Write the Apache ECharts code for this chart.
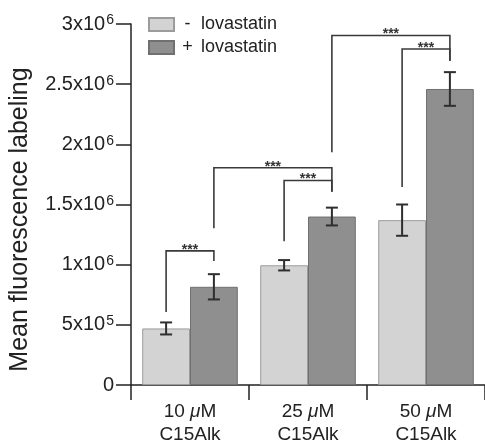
<!DOCTYPE html>
<html>
<head>
<meta charset="utf-8">
<style>
  html, body { margin: 0; padding: 0; background: #fff; }
  #main { width: 485px; height: 444px; }
</style>
<script src="https://cdn.jsdelivr.net/npm/echarts@6/dist/echarts.min.js"></script>
</head>
<body>
<div id="main"></div>
<script>
var doses = ['10', '25', '50'];
var seriesNames = ['- lovastatin', '+ lovastatin'];
var minusMean = [470000, 995000, 1370000];
var minusErr = [50000, 43000, 130000];
var plusMean = [816000, 1400000, 2460000];
var plusErr = [105000, 74000, 140000];

// significance brackets: [cat A, series A, cat B, series B, bar level, leg A end, leg B end]
var brackets = [
  [0, 0, 0, 1, 1115000, 607000, 1030000],
  [0, 1, 1, 1, 1805000, 1302000, 1605000],
  [1, 0, 1, 1, 1700000, 1195000, 1605000],
  [1, 1, 2, 1, 2904000, 1934000, 2695000],
  [2, 0, 2, 1, 2792000, 1646000, 2695000]
];

var FONT = 'Liberation Sans';
var GAP = 0.19; // barCategoryGap

var myChart = echarts.init(document.getElementById('main'));

function barCenter(api, cat, s) {
  var band = api.size([1, 0])[0];
  var bw = band * (1 - GAP) / 2;
  return api.coord([cat, 0])[0] + (s === 0 ? -bw / 2 : bw / 2);
}

function errData(means, errs) {
  return means.map(function (m, i) { return [i, m, errs[i]]; });
}

function renderErr(s) {
  return function (params, api) {
    var cat = api.value(0), m = api.value(1), e = api.value(2);
    var x = barCenter(api, cat, s);
    var yTop = api.coord([cat, m + e])[1];
    var yBot = api.coord([cat, m - e])[1];
    var style = { stroke: '#2e2e2e', lineWidth: 2 };
    return {
      type: 'group',
      children: [
        { type: 'line', shape: { x1: x, y1: yTop, x2: x, y2: yBot }, style: style },
        { type: 'line', shape: { x1: x - 6, y1: yTop, x2: x + 6, y2: yTop }, style: style },
        { type: 'line', shape: { x1: x - 6, y1: yBot, x2: x + 6, y2: yBot }, style: style }
      ]
    };
  };
}

function renderBracket(params, api) {
  var c1 = api.value(0), s1 = api.value(1), c2 = api.value(2), s2 = api.value(3);
  var lvl = api.coord([0, api.value(4)])[1];
  var e1 = api.coord([0, api.value(5)])[1];
  var e2 = api.coord([0, api.value(6)])[1];
  var x1 = barCenter(api, c1, s1);
  var x2 = barCenter(api, c2, s2);
  return {
    type: 'group',
    children: [
      {
        type: 'polyline',
        shape: { points: [[x1, e1], [x1, lvl], [x2, lvl], [x2, e2]] },
        style: { stroke: '#3a3a3a', lineWidth: 1.6, fill: null }
      },
      {
        type: 'text',
        x: (x1 + x2) / 2,
        y: lvl - 1,
        style: {
          text: '***',
          fontFamily: FONT,
          fontSize: 14,
          fontWeight: 'bold',
          fill: '#333',
          align: 'center',
          verticalAlign: 'middle'
        }
      }
    ]
  };
}

function yLabel(v) {
  if (v === 0) return '{b|0}';
  var exp = Math.floor(Math.log10(v) + 1e-9);
  var mant = Math.round(v / Math.pow(10, exp) * 10) / 10;
  return '{b|' + mant + 'x10}{s|' + exp + '}';
}

var option = {
  animation: false,
  backgroundColor: '#fff',
  textStyle: { fontFamily: FONT },
  grid: { left: 128, width: 363, top: 24, height: 363 },
  legend: {
    orient: 'vertical',
    left: 148,
    top: 15.5,
    padding: 0,
    icon: 'rect',
    itemWidth: 25,
    itemHeight: 13,
    itemGap: 5,
    data: seriesNames,
    formatter: function (name) {
      var parts = name.split(' ');
      return '{s|' + parts[0] + '}{t|' + parts[1] + '}';
    },
    textStyle: {
      fontFamily: FONT,
      fontSize: 18,
      color: '#222',
      lineHeight: 18,
      rich: {
        s: { width: 17, align: 'right', fontSize: 18, lineHeight: 18, fontFamily: FONT, color: '#222' },
        t: { fontSize: 18, lineHeight: 18, fontFamily: FONT, color: '#222', padding: [0, 0, 0, 5] }
      }
    }
  },
  xAxis: {
    type: 'category',
    data: doses,
    boundaryGap: true,
    axisLine: { lineStyle: { color: '#222', width: 1.5 } },
    axisTick: { show: true, length: 15, lineStyle: { color: '#222', width: 1.5 } },
    axisLabel: {
      margin: 15,
      formatter: function (d) {
        return '{n|' + d + ' }{i|\u03bc}{n|M}\n{n|C15Alk}';
      },
      rich: {
        n: { fontFamily: FONT, fontSize: 19, lineHeight: 23, color: '#222' },
        i: { fontFamily: FONT, fontSize: 19, lineHeight: 23, color: '#222', fontStyle: 'italic' }
      }
    }
  },
  yAxis: {
    type: 'value',
    min: 0,
    max: 3000000,
    interval: 500000,
    name: 'Mean fluorescence labeling',
    nameLocation: 'middle',
    nameRotate: 90,
    nameGap: 98,
    nameTextStyle: { fontFamily: FONT, fontSize: 25, color: '#222', padding: [0, 30, 0, 0] },
    splitLine: { show: false },
    axisLine: { show: true, lineStyle: { color: '#222', width: 1.5 } },
    axisTick: { show: true, length: 15, lineStyle: { color: '#222', width: 1.5 } },
    axisLabel: {
      margin: 17,
      formatter: yLabel,
      rich: {
        b: { fontFamily: FONT, fontSize: 20, color: '#222', lineHeight: 21 },
        s: { fontFamily: FONT, fontSize: 14, color: '#222', verticalAlign: 'top', lineHeight: 21, padding: [0, 0, 8, 1] }
      }
    }
  },
  series: [
    {
      name: seriesNames[0],
      type: 'bar',
      data: minusMean,
      barGap: '0%',
      barCategoryGap: '19%',
      itemStyle: { color: '#d3d3d3', borderColor: '#9c9c9c', borderWidth: 1 }
    },
    {
      name: seriesNames[1],
      type: 'bar',
      data: plusMean,
      barGap: '0%',
      barCategoryGap: '19%',
      itemStyle: { color: '#8f8f8f', borderColor: '#707070', borderWidth: 1 }
    },
    {
      type: 'custom',
      renderItem: renderErr(0),
      data: errData(minusMean, minusErr),
      encode: { x: 0, y: 1 },
      z: 5
    },
    {
      type: 'custom',
      renderItem: renderErr(1),
      data: errData(plusMean, plusErr),
      encode: { x: 0, y: 1 },
      z: 5
    },
    {
      type: 'custom',
      renderItem: renderBracket,
      data: brackets,
      encode: { x: 0, y: 4 },
      clip: false,
      z: 6
    }
  ]
};

myChart.setOption(option);
</script>
</body>
</html>
